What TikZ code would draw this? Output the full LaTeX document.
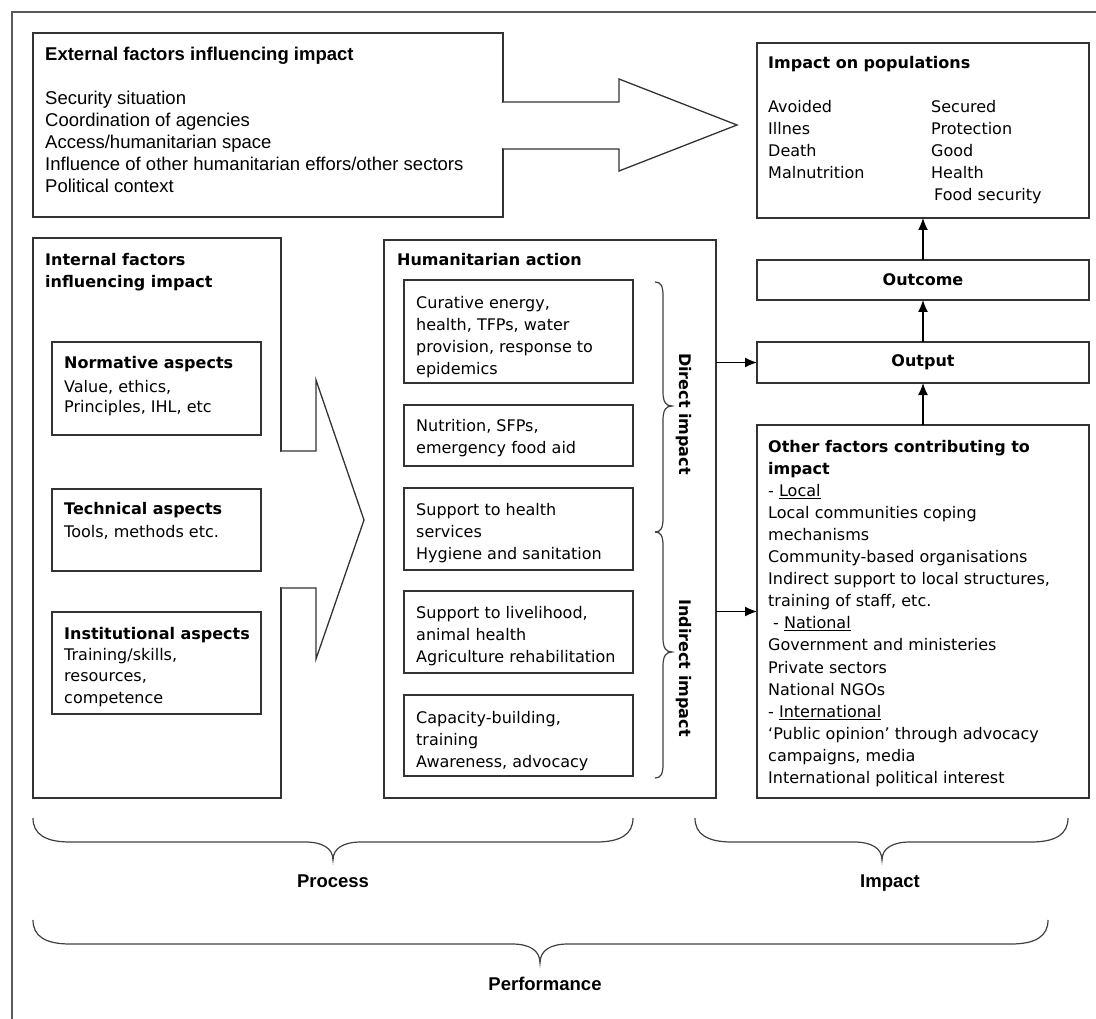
\documentclass[tikz,border=0pt]{standalone}
\usepackage{fontspec}
\setmainfont{DejaVu Sans}
\newfontfamily\condfont{Liberation Sans}
\usetikzlibrary{arrows.meta}
\tikzset{
  frameline/.style={draw=black!65, line width=2pt},
  box/.style={draw=black!80, line width=1.3pt, anchor=north west, inner sep=0pt, outer sep=0pt},
  txt/.style={anchor=base west, align=left, inner sep=0pt, font=\fontsize{16}{22}\selectfont},
  hd/.style={anchor=base west, align=left, inner sep=0pt, font=\fontsize{16}{21.5}\selectfont\bfseries},
  ctr/.style={inner sep=0pt, font=\fontsize{16}{22}\selectfont\bfseries},
  ctxt/.style={anchor=base west, align=left, inner sep=0pt, font=\fontsize{18.5}{22}\selectfont\condfont},
  chd/.style={anchor=base west, inner sep=0pt, font=\fontsize{18.5}{22}\selectfont\condfont\bfseries},
  lbl/.style={anchor=base, inner sep=0pt, font=\fontsize{18.5}{22}\selectfont\condfont\bfseries},
  arr/.style={draw=black, line width=1.4pt, -{Latex[length=12pt,width=10pt]}},
  blk/.style={draw=black!80, line width=1.3pt, fill=white, line join=miter},
  brc/.style={draw=black!75, line width=1.2pt},
}
\begin{document}
\begin{tikzpicture}[x=1pt,y=-1pt]
\useasboundingbox (0,0) rectangle (1096,1019);
% outer frame (clipped)
\draw[frameline] (12,1019) -- (12,12) -- (1096,12);

% ---------- boxes ----------
\node[box, minimum width=470pt, minimum height=184pt] (ext) at (33,33) {};
\node[box, minimum width=332pt, minimum height=175pt] (pop) at (757,43) {};
\node[box, minimum width=332pt, minimum height=40pt] (outc) at (757,260) {};
\node[box, minimum width=332pt, minimum height=41pt] (outp) at (757,342) {};
\node[box, minimum width=332pt, minimum height=373pt] (oth) at (757,425) {};
\node[box, minimum width=248pt, minimum height=560pt] (intl) at (33,238) {};
\node[box, minimum width=209pt, minimum height=93pt] (norm) at (52,342) {};
\node[box, minimum width=209pt, minimum height=82pt] (tech) at (52,489) {};
\node[box, minimum width=209pt, minimum height=102pt] (inst) at (52,612) {};
\node[box, minimum width=332pt, minimum height=558pt] (hum) at (384,240) {};
\node[box, minimum width=229pt, minimum height=103pt] (b1) at (404,280) {};
\node[box, minimum width=229pt, minimum height=61pt] (b2) at (404,405) {};
\node[box, minimum width=229pt, minimum height=82pt] (b3) at (404,488) {};
\node[box, minimum width=229pt, minimum height=82pt] (b4) at (404,591) {};
\node[box, minimum width=229pt, minimum height=81pt] (b5) at (404,695) {};

% ---------- block arrows ----------
\fill[white] (501,103) rectangle (505,148);
\draw[blk] (503,102) -- (619,102) -- (619,79) -- (737,125) -- (619,171) -- (619,149) -- (503,149);
\fill[white] (279,452) rectangle (283,587);
\draw[blk] (281,451) -- (316,451) -- (316,380) -- (364,520) -- (316,659) -- (316,588) -- (281,588);

% ---------- texts (multi-line nodes are placed by their last baseline) ----------
\node[chd] (extT) at (45,61) {External factors influencing impact};
\node[ctxt] (extB) at (45,193) {Security situation\\Coordination of agencies\\Access/humanitarian space\\Influence of other humanitarian effors/other sectors\\Political context};

\node[hd] (popT) at (768,69) {Impact on populations};
\node[txt] (popL) at (768,179) {Avoided\\Illnes\\Death\\Malnutrition};
\node[txt] (popR) at (931,179) {Secured\\Protection\\Good\\Health};
\node[txt] (popF) at (934,201) {Food security};

\node[ctr] (outcT) at (outc.center) {Outcome};
\node[ctr] (outpT) at (outp.center) {Output};

\node[txt, font=\fontsize{16}{22.1}\selectfont] (othT) at (768,783.5) {\textbf{Other factors contributing to}\\\textbf{impact}\\- \underline{Local}\\Local communities coping\\mechanisms\\Community-based organisations\\Indirect support to local structures,\\training of staff, etc.\\\hspace{5pt}- \underline{National}\\Government and ministeries\\Private sectors\\National NGOs\\- \underline{International}\\`Public opinion' through advocacy\\campaigns, media\\International political interest};

\node[hd] (intlT) at (45,287.5) {Internal factors\\influencing impact};
\node[hd] (normT) at (64,368) {Normative aspects};
\node[txt, font=\fontsize{16}{20}\selectfont] (normB) at (64,412) {Value, ethics,\\Principles, IHL, etc};
\node[hd] (techT) at (64,514) {Technical aspects};
\node[txt] (techB) at (64,537) {Tools, methods etc.};
\node[hd] (instT) at (64,639) {Institutional aspects};
\node[txt, font=\fontsize{16}{21.7}\selectfont] (instB) at (64,703.4) {Training/skills,\\resources,\\competence};

\node[hd] (humT) at (397,266) {Humanitarian action};
\node[txt] (b1T) at (416,374) {Curative energy,\\health, TFPs, water\\provision, response to\\epidemics};
\node[txt] (b2T) at (416,453) {Nutrition, SFPs,\\emergency food aid};
\node[txt] (b3T) at (416,559) {Support to health\\services\\Hygiene and sanitation};
\node[txt] (b4T) at (416,662) {Support to livelihood,\\animal health\\Agriculture rehabilitation};
\node[txt] (b5T) at (416,767) {Capacity-building,\\training\\Awareness, advocacy};

% ---------- side braces ----------
\draw[brc] (655,282) .. controls (661,282) and (663,286) .. (663,296) -- (663,392)
  .. controls (663,402) and (666,406) .. (672,406)
  .. controls (666,406) and (663,410) .. (663,420) -- (663,518)
  .. controls (663,528) and (661,532) .. (655,532);
\draw[brc] (655,532) .. controls (661,532) and (663,536) .. (663,546) -- (663,638)
  .. controls (663,648) and (666,652) .. (672,652)
  .. controls (666,652) and (663,656) .. (663,666) -- (663,764)
  .. controls (663,774) and (661,778) .. (655,778);
\node[ctr, rotate=-90] (dirT) at (684,414) {Direct impact};
\node[ctr, rotate=-90] (indT) at (684,668) {Indirect impact};

% ---------- connectors ----------
\draw[arr] (hum.east |- outp.west) -- (outp.west);
\draw[arr] (hum.east |- oth.west) -- (oth.west);
\draw[arr] (oth.north) -- (outp.south);
\draw[arr] (outp.north) -- (outc.south);
\draw[arr] (outc.north) -- (pop.south);

% ---------- bottom braces ----------
\draw[brc] (33,818) .. controls (33,834) and (45,842) .. (70,842) -- (305,842)
  .. controls (322,842) and (333,848) .. (333,860)
  .. controls (333,848) and (344,842) .. (361,842) -- (596,842)
  .. controls (621,842) and (633,834) .. (633,818);
\draw[brc] (695,818) .. controls (695,834) and (707,842) .. (732,842) -- (854,842)
  .. controls (871,842) and (882,848) .. (882,860)
  .. controls (882,848) and (893,842) .. (910,842) -- (1031,842)
  .. controls (1056,842) and (1068,834) .. (1068,818);
\draw[brc] (33,920) .. controls (33,936) and (45,944) .. (70,944) -- (512,944)
  .. controls (529,944) and (540,950) .. (540,963)
  .. controls (540,950) and (551,944) .. (568,944) -- (1011,944)
  .. controls (1036,944) and (1048,936) .. (1048,920);
\node[lbl] (procT) at (333,887) {Process};
\node[lbl] (impT) at (890,887) {Impact};
\node[lbl] (perfT) at (545,990) {Performance};
\end{tikzpicture}
\end{document}
